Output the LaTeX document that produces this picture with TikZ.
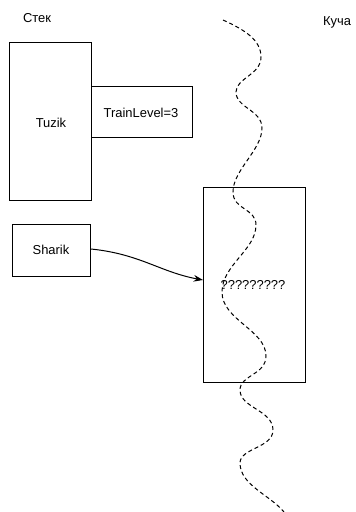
\documentclass[tikz,border=0pt]{standalone}
\usepackage{fontspec}
\setmainfont{Liberation Sans}
\usetikzlibrary{arrows.meta}
\begin{document}
\begin{tikzpicture}[x=0.75pt,y=-0.75pt,
  box/.style={draw,line width=0.75pt,inner sep=0pt,anchor=north west},
  lbl/.style={font=\fontsize{9.7pt}{12pt}\selectfont,inner sep=0pt},
  wave/.style={dash pattern=on 3pt off 2.2pt,line width=0.75pt}]
\useasboundingbox (0,0) rectangle (356,512);
\node[lbl] (stek) at (37,18) {Стек};
\node[lbl] (kucha) at (337,22) {Куча};
\node[box,minimum width=61.5pt,minimum height=118.5pt] (tuzik) at (9,42) {};
\node[lbl] (tuzikt) at (51,123) {Tuzik};
\node[box,minimum width=75.75pt,minimum height=38.25pt] (train) at (91,86) {};
\node[lbl] (traint) at (141,113) {TrainLevel=3};
\node[box,minimum width=58.5pt,minimum height=39pt] (sharik) at (12,224) {};
\node[lbl] (sharikt) at (51,250) {Sharik};
\node[box,minimum width=76.5pt,minimum height=146.25pt] (heap) at (203,187) {};
\node[lbl] (heapt) at (253,285) {?????????};
\coordinate (arrstart) at (91,249);
\coordinate (arrend) at (203,280);
\draw[line width=0.75pt,-{Stealth[length=7pt,width=5pt]}] (arrstart) .. controls (140,254) and (160,272) .. (arrend);
\coordinate (w0) at (223,20);
\coordinate (w1) at (284,512);
\draw[wave] (w0) .. controls (245,30) and (261,40) .. (261,57)
  .. controls (261,75) and (236,78) .. (236,92)
  .. controls (236,108) and (262,110) .. (262,128)
  .. controls (262,150) and (233,170) .. (233,192)
  .. controls (233,210) and (256,208) .. (256,225)
  .. controls (256,250) and (222,265) .. (222,292)
  .. controls (222,320) and (266,330) .. (266,356)
  .. controls (266,375) and (240,375) .. (240,390)
  .. controls (240,408) and (273,410) .. (273,430)
  .. controls (273,448) and (240,448) .. (240,463)
  .. controls (240,485) and (270,495) .. (w1);
\end{tikzpicture}
\end{document}
